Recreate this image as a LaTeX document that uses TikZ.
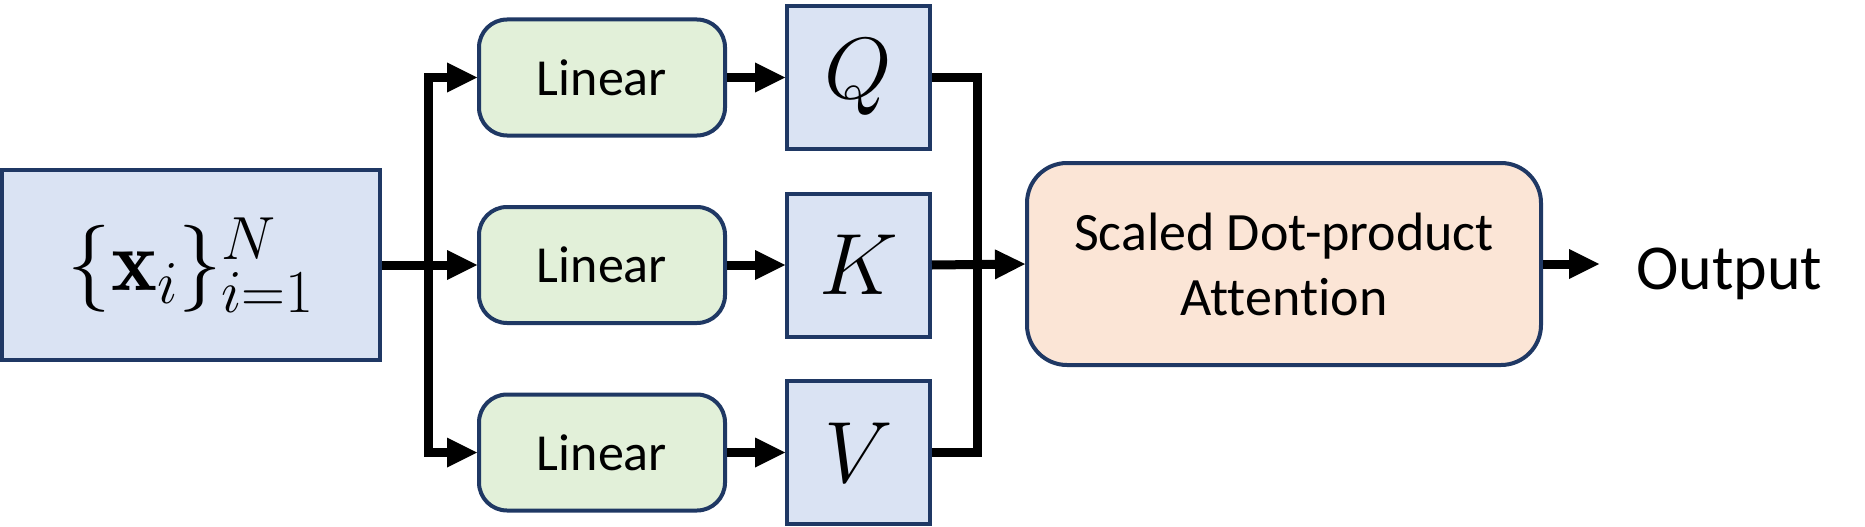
\RequirePackage{fix-cm}
\documentclass[tikz,border=0pt]{standalone}
\usepackage{fontspec}
\newfontfamily\labelfont[Ligatures=NoCommon]{Carlito}
\usetikzlibrary{arrows.meta}
\definecolor{boxline}{HTML}{1F3864}
\definecolor{bluefill}{HTML}{DAE3F3}
\definecolor{greenfill}{HTML}{E2F0D9}
\definecolor{peachfill}{HTML}{FBE5D6}

\begin{document}
\begin{tikzpicture}[x=1pt,y=1pt]
	\tikzstyle{every node}+=[inner sep=0pt]
	\tikzstyle{bluebox}=[draw=boxline, fill=bluefill, line width=4pt, font=\fontsize{87}{100}\selectfont]
	\tikzstyle{linbox}=[draw=boxline, fill=greenfill, line width=4pt, rounded corners=28pt, minimum width=246pt, minimum height=116pt, font=\labelfont\fontsize{52}{62}\selectfont]
	\tikzstyle{wire}=[black, line width=9pt]
	\tikzstyle{conn}=[wire, -{Triangle[length=30pt,width=30pt,line width=0pt]}]
	\useasboundingbox (0,0) rectangle (1865,-527);
	% input and the three projections
	\node [bluebox, minimum width=378pt, minimum height=190pt] (xin) at (191,-265) {$\{\mathbf{x}_i\}_{i=1}^N$};
	\node [linbox] (lin1) at (602,-77.5) {Linear};
	\node [linbox] (lin2) at (602,-265) {Linear};
	\node [linbox] (lin3) at (602,-452.5) {Linear};
	\node [bluebox, minimum width=143pt, minimum height=143pt] (qq) at (858.5,-77.5) {$Q$};
	\node [bluebox, minimum width=143pt, minimum height=143pt] (kk) at (858.5,-265) {$K$};
	\node [bluebox, minimum width=143pt, minimum height=143pt] (vv) at (858.5,-452.5) {$V$};
	\node [draw=boxline, fill=peachfill, line width=4pt, rounded corners=40pt, minimum width=514pt, minimum height=202pt, align=center, font=\labelfont\fontsize{54}{65}\selectfont] (att) at (1284,-264) {Scaled Dot-product\\Attention};
	\node [anchor=base west, font=\labelfont\fontsize{64}{76}\selectfont] (out) at (1636,-289) {Output};
	\coordinate (split) at (428,-265);
	\coordinate (merge) at (977,-265);
	% connectors
	\draw [conn] (xin.east) -- (lin2.west);
	\draw [conn] (split) |- (lin1.west);
	\draw [conn] (split) |- (lin3.west);
	\draw [conn] (lin1.east) -- (qq.west);
	\draw [conn] (lin2.east) -- (kk.west);
	\draw [conn] (lin3.east) -- (vv.west);
	\draw [wire] (qq.east) -| (merge);
	\draw [wire] (vv.east) -| (merge);
	\draw [conn] (kk.east) -- (att.west);
	\draw [conn, shorten >=37pt] (att.east) -- (att.east -| out.west);
\end{tikzpicture}
\end{document}
